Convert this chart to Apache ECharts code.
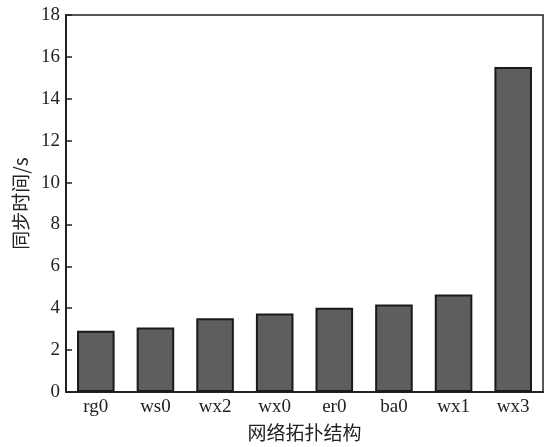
<!DOCTYPE html>
<html><head><meta charset="utf-8">
<script src="https://cdn.jsdelivr.net/npm/echarts@6/dist/echarts.min.js"></script>
<style>html,body{margin:0;padding:0;background:#fff}#c{width:544px;height:447px}</style>
</head><body><div id="c"></div>
<script>
const categories = ['rg0','ws0','wx2','wx0','er0','ba0','wx1','wx3'];
const syncTime = [2.92, 3.08, 3.52, 3.75, 4.02, 4.18, 4.65, 15.52];
const yTicks = {min: 0, max: 18, interval: 2};
const xName = '网络拓扑结构';
const yName = '同步时间/s';

const chart = echarts.init(document.getElementById('c'));
const serif = '"Liberation Serif","DejaVu Serif",serif';
const cjk = '"Noto Sans CJK SC","Noto Sans",sans-serif';
chart.setOption({
  animation: false,
  grid: {left: 66, right: 1, top: 15, bottom: 55, show: true, borderColor: '#222', borderWidth: 1.5, backgroundColor: 'transparent'},
  xAxis: {
    type: 'category', data: categories,
    name: xName, nameLocation: 'middle', nameGap: 31,
    nameTextStyle: {fontFamily: cjk, fontSize: 19, color: '#222'},
    axisLine: {lineStyle: {color: '#222', width: 2}},
    axisTick: {show: false},
    axisLabel: {fontFamily: serif, fontSize: 19, color: '#222', margin: 6}
  },
  yAxis: {
    type: 'value', min: yTicks.min, max: yTicks.max, interval: yTicks.interval,
    name: yName, nameLocation: 'middle', nameGap: 36, nameRotate: 90,
    nameTextStyle: {fontFamily: cjk, fontSize: 19, color: '#222'},
    axisLine: {show: true, lineStyle: {color: '#222', width: 2}},
    axisTick: {show: true, inside: true, length: 6, lineStyle: {color: '#222', width: 1.5}},
    axisLabel: {fontFamily: serif, fontSize: 19, color: '#222', margin: 6},
    splitLine: {show: false}
  },
  series: [{
    type: 'bar', data: syncTime, barWidth: '63%',
    itemStyle: {color: '#5e5e5e', borderColor: '#1a1a1a', borderWidth: 2}
  }]
});
</script></body></html>
